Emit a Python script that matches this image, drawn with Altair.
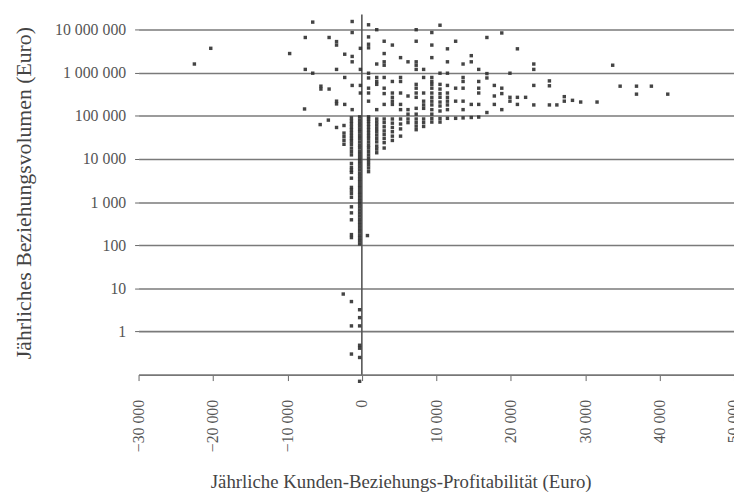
import altair as alt
import pandas as pd

# ---- data (x: Euro profitability, y: Euro volume) ----
# upper left: negative profitability, volume >= 100 000
neg_upper_x = [-22500, -20300, -9700, -7600, -7600, -7700, -6600, -6600, -5500, -5500,
               -4400, -4400, -3400, -3400, -3400, -3400, -3400, -2300, -2300, -2300,
               -1300, -1300, -1300, -1300, -1300, -1300, -200, -200, -200, -200]
neg_upper_y = [1.6e6, 3.7e6, 2.8e6, 6.6e6, 1.2e6, 1.45e5, 1.5e7, 9.8e5, 4.9e5, 4.2e5,
               6.6e6, 4.2e5, 5.3e6, 4.4e6, 1.2e6, 2.2e5, 1.9e5, 2.7e6, 7.8e5, 1.85e5,
               1.55e7, 8.6e6, 2.4e6, 1.8e6, 5.1e5, 1.4e5, 3.7e6, 1.2e6, 5.1e5, 3.4e5]

# upper right: positive profitability, volume >= 100 000
pos_upper_x = [900, 900, 900, 900, 900, 900, 900, 900, 900,
               2000, 2000, 2000, 2000, 2000, 2000,
               3000, 3000, 3000, 3000, 3000, 3000, 3000, 3000,
               4100, 4100, 4100, 4100, 4100, 4100,
               5200, 5200, 5200, 5200, 5200, 5200,
               6200, 6200, 6200, 6200,
               7300, 7300, 7300, 7300, 7300, 7300, 7300, 7300, 7300, 7300, 7300,
               8300, 8300, 8300, 8300, 8300, 8300,
               9400, 9400, 9400, 9400, 9400, 9400, 9400, 9400, 9400, 9400, 9400, 9400, 9400,
               10500, 10500, 10500, 10500, 10500, 10500, 10500, 10500, 10500,
               11500, 11500, 11500, 11500, 11500, 11500, 11500, 11500, 11500,
               12600, 12600, 12600,
               13600, 13600, 13600, 13600, 13600, 13600,
               14700, 14700, 14700,
               15700, 15700, 15700, 15700, 15700,
               16800, 16800, 16800, 16800,
               17800, 17800, 17800,
               18800, 18800, 18800, 18800,
               19900, 19900, 19900,
               20900, 20900, 20900,
               22000,
               23100, 23100, 23100, 23100,
               25200, 25200, 25200,
               26200, 27200, 27200, 28300, 29400, 31600,
               33700, 34700, 36900, 36900, 38900, 41100]
pos_upper_y = [1.3e7, 6.8e6, 4.6e6, 3.8e6, 9.8e5, 7.6e5, 4.4e5, 3.4e5, 2.2e5,
               1.0e7, 1.6e6, 7.8e5, 6.3e5, 5.4e5, 1.4e5,
               5.4e6, 2.8e6, 1.8e6, 1.5e6, 7.8e5, 4.4e5, 3.3e5, 1.85e5,
               4.4e6, 6.3e5, 3.4e5, 2.7e5, 2.2e5, 1.85e5,
               2.25e6, 7.8e5, 6.3e5, 3.4e5, 1.85e5, 1.4e5,
               1.8e6, 2.9e5, 1.4e5, 1.1e5,
               1.0e7, 5.4e6, 1.8e6, 1.5e6, 1.2e6, 5.4e5, 4.4e5, 3.4e5, 2.7e5, 1.5e5, 1.1e5,
               1.2e6, 7.8e5, 3.4e5, 2.2e5, 1.8e5, 1.5e5,
               8.6e6, 4.4e6, 2.25e6, 7.8e5, 6.3e5, 5.4e5, 4.4e5, 3.4e5, 2.7e5, 2.2e5, 1.8e5, 1.4e5, 1.1e5,
               1.27e7, 9.8e5, 5.4e5, 4.2e5, 3.3e5, 2.7e5, 2.1e5, 1.7e5, 1.3e5,
               3.6e6, 1.8e6, 9.8e5, 5.1e5, 3.4e5, 2.7e5, 2.2e5, 1.8e5, 1.4e5,
               5.4e6, 4.4e5, 2.2e5,
               1.6e6, 7.8e5, 6.3e5, 4.4e5, 2.2e5, 1.4e5,
               2.5e6, 1.8e6, 1.85e5,
               1.2e6, 6.3e5, 4.4e5, 3.4e5, 1.85e5,
               6.6e6, 9.6e5, 7.6e5, 1.2e5,
               5.1e5, 2.9e5, 1.85e5,
               8.4e6, 4.4e5, 3.3e5, 1.4e5,
               9.8e5, 2.7e5, 2.2e5,
               3.6e6, 2.7e5, 1.85e5,
               2.7e5,
               1.6e6, 1.2e6, 5.1e5, 1.8e5,
               6.5e5, 5.0e5, 1.8e5,
               1.8e5, 2.8e5, 2.2e5, 2.3e5, 2.1e5, 2.1e5,
               1.5e6, 4.9e5, 4.9e5, 3.2e5, 4.9e5, 3.2e5]

# lower right: positive profitability, volume below 100 000
pos_lower_x = [900] * 19 + [750] + [2000] * 11 + [3000] * 8 + [4100] * 6 + [5200] * 4 \
    + [6200] * 2 + [7300] * 4 + [8300] * 3 + [9400] * 2 + [10500] * 2 \
    + [11500, 12600, 13600, 14700, 15700]
pos_lower_y = [9.5e4, 8.5e4, 7.5e4, 6.5e4, 5.6e4, 4.8e4, 4.1e4, 3.5e4, 3.0e4, 2.5e4,
               2.1e4, 1.8e4, 1.5e4, 1.25e4, 1.05e4, 8.8e3, 7.4e3, 6.2e3, 5.1e3,
               168,
               8.5e4, 7.2e4, 6.1e4, 5.1e4, 4.3e4, 3.6e4, 3.0e4, 2.5e4, 2.0e4, 1.7e4, 1.4e4,
               8.5e4, 7.0e4, 5.6e4, 4.5e4, 3.7e4, 3.0e4, 2.4e4, 1.8e4,
               8.5e4, 6.8e4, 5.4e4, 4.3e4, 3.4e4, 2.7e4,
               8.5e4, 6.5e4, 5.0e4, 3.4e4,
               8.5e4, 7.0e4,
               8.5e4, 7.0e4, 5.8e4, 4.8e4,
               8.5e4, 7.0e4, 5.7e4,
               8.7e4, 7.2e4,
               8.7e4, 7.2e4,
               8.8e4, 8.8e4, 9.0e4, 9.2e4, 9.4e4]

# lower left: column just left of zero (near -300)
col0_y = [9.5e4, 8.0e4, 6.8e4, 5.8e4, 4.9e4, 4.2e4, 3.5e4, 3.0e4, 2.5e4, 2.1e4,
          1.8e4, 1.5e4, 1.28e4, 1.08e4, 9.2e3, 7.8e3, 6.6e3, 5.6e3, 4.7e3, 4.0e3,
          3.4e3, 2.9e3, 2.45e3, 2.1e3, 1.75e3, 1.5e3, 1.27e3, 1.08e3, 920, 780,
          660, 560, 475, 400, 340, 290, 245, 210, 175, 150, 128, 108,
          3.2, 2.1, 1.35, 0.48, 0.41, 0.25, 0.07]
col0_x = [-300] * len(col0_y)

# lower left: second column (near -1400) and scattered points
col1_y = [9.0e4, 7.7e4, 6.6e4, 5.6e4, 4.8e4, 4.1e4, 3.5e4, 3.0e4, 2.6e4, 2.2e4,
          1.8e4, 1.5e4, 1.25e4, 7.9e3, 6.4e3, 5.5e3, 4.9e3, 3.6e3, 2.2e3, 1.9e3,
          1.6e3, 1.3e3, 780, 565, 390, 177, 151, 4.95, 1.35, 0.30]
col1_x = [-1400] * len(col1_y)
neg_lower_x = [-2400, -2400, -2400, -2400, -2400, -3400, -4500, -5600, -2500]
neg_lower_y = [6.0e4, 4.0e4, 3.3e4, 2.7e4, 2.2e4, 5.4e4, 8.0e4, 6.3e4, 7.4]

xs = neg_upper_x + pos_upper_x + pos_lower_x + col0_x + col1_x + neg_lower_x
ys = neg_upper_y + pos_upper_y + pos_lower_y + col0_y + col1_y + neg_lower_y
df = pd.DataFrame({"x": xs, "y": ys})

x_ticks = [-30000, -20000, -10000, 0, 10000, 20000, 30000, 40000, 50000]
y_ticks = [1, 10, 100, 1000, 10000, 100000, 1000000, 10000000]

fmt = "(datum.value < 0 ? '\u2212' : '') + replace(replace(format(abs(datum.value), ','), ',', ' '), ',', ' ')"

FONT = "Liberation Serif"

points = alt.Chart(df).mark_square(size=12, color="#303030", opacity=0.9).encode(
    x=alt.X(
        "x:Q",
        scale=alt.Scale(domain=[-30000, 50000], nice=False, zero=False),
        axis=alt.Axis(
            values=x_ticks,
            labelExpr=fmt,
            labelAngle=270,
            labelFont=FONT,
            labelFontSize=16,
            labelColor="#555555",
            labelPadding=19,
            tickSize=6,
            tickColor="#666666",
            domainColor="#777777",
            domainWidth=1.6,
            grid=False,
            title="Jährliche Kunden-Beziehungs-Profitabilität (Euro)",
            titleFont=FONT,
            titleFontSize=19,
            titleFontWeight="normal",
            titleColor="#444444",
            titleX=265,
            titleY=114,
            titleBaseline="alphabetic",
        ),
    ),
    y=alt.Y(
        "y:Q",
        scale=alt.Scale(type="log", domain=[0.1, 22400000], nice=False),
        axis=alt.Axis(
            values=y_ticks,
            labelExpr=fmt,
            labelFont=FONT,
            labelFontSize=16,
            labelColor="#555555",
            labelPadding=9,
            tickSize=4,
            tickColor="#666666",
            domain=False,
            grid=True,
            gridColor="#7a7a7a",
            gridWidth=1.6,
            title="Jährliches Beziehungsvolumen (Euro)",
            titleFont=FONT,
            titleFontSize=22,
            titleFontWeight="normal",
            titleColor="#444444",
            titleX=-116,
            titleY=180,
            titleBaseline="middle",
        ),
    ),
)

zero_line = alt.Chart(pd.DataFrame({"x": [0]})).mark_rule(color="#555555", strokeWidth=1.6).encode(
    x="x:Q"
)

chart = alt.layer(zero_line, points).properties(
    width=602,
    height=364,
    autosize=alt.AutoSizeParams(type="none"),
    padding={"left": 132, "top": 4, "right": 0, "bottom": 117},
).configure_view(stroke=None)

chart.save("out.html", embed_options={"renderer": "svg", "actions": False})
